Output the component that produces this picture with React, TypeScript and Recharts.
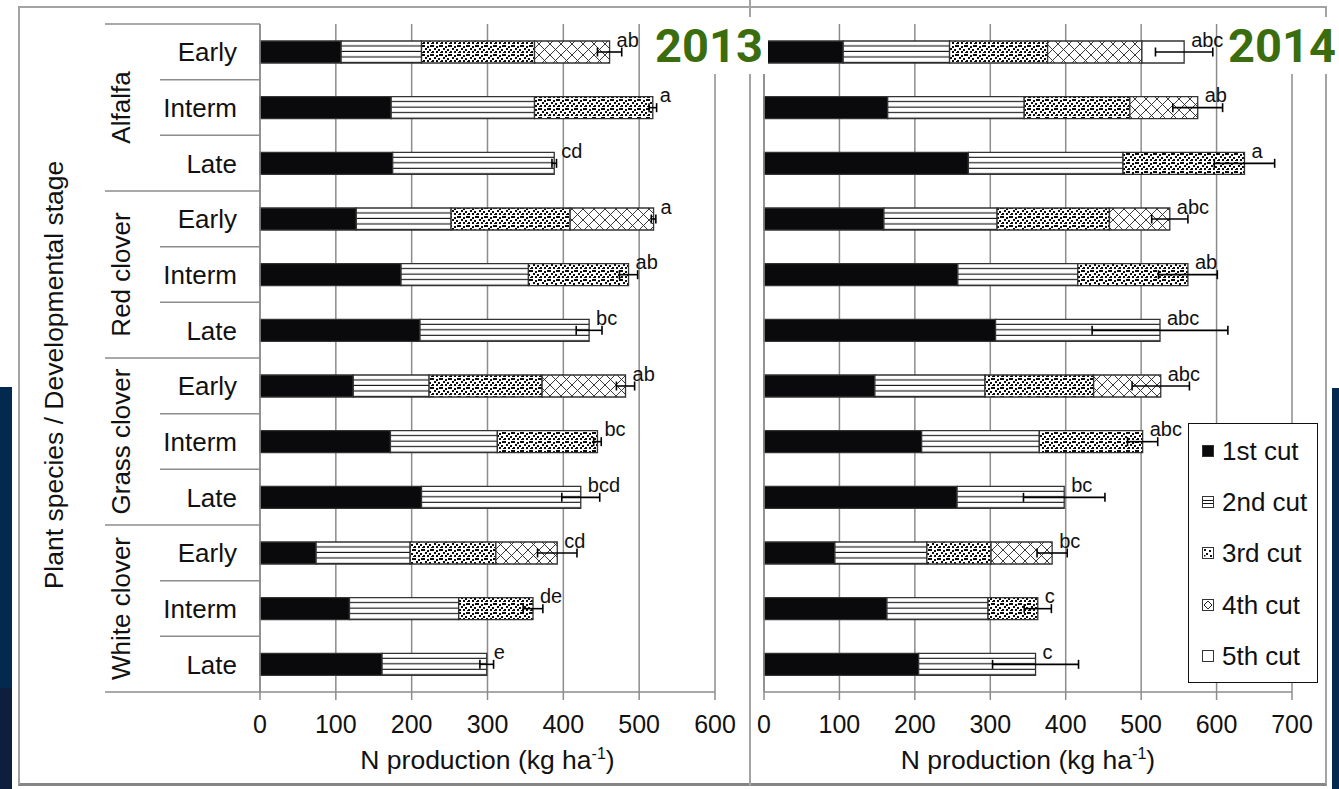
import React from 'react';
import {
  BarChart,
  Bar,
  XAxis,
  YAxis,
  CartesianGrid,
  ErrorBar,
  LabelList,
  Legend,
} from 'recharts';

// ---- data -------------------------------------------------------------
const species = ['Alfalfa', 'Red clover', 'Grass clover', 'White clover'];
const stages = ['Early', 'Interm', 'Late'];
const cutNames = ['1st cut', '2nd cut', '3rd cut', '4th cut', '5th cut'];

// N production per cut (kg ha-1); rows = species x stage
const cut1_2013 = [107, 173, 175, 127, 186, 211, 123, 172, 213, 74, 118, 161];
const cut2_2013 = [106, 189, 213, 125, 168, 223, 100, 141, 210, 124, 144, 138];
const cut3_2013 = [149, 156, 0, 157, 132, 0, 149, 132, 0, 113, 98, 0];
const cut4_2013 = [99, 0, 0, 110, 0, 0, 110, 0, 0, 81, 0, 0];
const cut5_2013 = [0, 0, 0, 0, 0, 0, 0, 0, 0, 0, 0, 0];
const se2013 = [16, 5, 3, 3, 12, 17, 12, 5, 25, 26, 13, 9];
const letters2013 = ['ab', 'a', 'cd', 'a', 'ab', 'bc', 'ab', 'bc', 'bcd', 'cd', 'de', 'e'];

const cut1_2014 = [105, 164, 271, 159, 257, 307, 147, 209, 256, 94, 163, 205];
const cut2_2014 = [141, 181, 205, 150, 159, 218, 146, 156, 142, 122, 134, 155];
const cut3_2014 = [130, 140, 161, 149, 146, 0, 144, 137, 0, 85, 66, 0];
const cut4_2014 = [125, 90, 0, 80, 0, 0, 89, 0, 0, 81, 0, 0];
const cut5_2014 = [56, 0, 0, 0, 0, 0, 0, 0, 0, 0, 0, 0];
const se2014 = [38, 33, 40, 24, 39, 90, 38, 20, 54, 20, 18, 57];
const letters2014 = ['abc', 'ab', 'a', 'abc', 'ab', 'abc', 'abc', 'abc', 'bc', 'bc', 'c', 'c'];

const ticks2013 = [0, 100, 200, 300, 400, 500, 600];
const ticks2014 = [0, 100, 200, 300, 400, 500, 600, 700];

const CUT_KEYS = ['c1', 'c2', 'c3', 'c4', 'c5'] as const;

type Row = {
  key: string;
  species: string;
  stage: string;
  c1: number;
  c2: number;
  c3: number;
  c4: number;
  c5: number;
  last: number; // index of the outermost non-zero cut
  se: number;
  letter: string;
};

const buildRows = (cuts: number[][], se: number[], letters: string[]): Row[] =>
  species.flatMap((sp, i) =>
    stages.map((st, j) => {
      const k = i * stages.length + j;
      let last = 0;
      cuts.forEach((c, ci) => {
        if (c[k] > 0) last = ci;
      });
      return {
        key: `${sp} ${st}`,
        species: sp,
        stage: st,
        c1: cuts[0][k],
        c2: cuts[1][k],
        c3: cuts[2][k],
        c4: cuts[3][k],
        c5: cuts[4][k],
        last,
        se: se[k],
        letter: letters[k],
      };
    })
  );

const rows2013 = buildRows([cut1_2013, cut2_2013, cut3_2013, cut4_2013, cut5_2013], se2013, letters2013);
const rows2014 = buildRows([cut1_2014, cut2_2014, cut3_2014, cut4_2014, cut5_2014], se2014, letters2014);

// ---- styling ----------------------------------------------------------
const FONT = '"Liberation Sans", Arial, Helvetica, sans-serif';
const GRID = '#8c8c8c';
const TEXT = '#111';
const BAR_STROKE = '#333';
const CHART_H = 789;
const PLOT_TOP = 24;
const PLOT_BOTTOM = 692;
const ROW_BAND = (PLOT_BOTTOM - PLOT_TOP) / rows2013.length;

// confetti dots for the 3rd cut (x, y, size within a 9 px tile)
const DOTS: [number, number, number][] = [
  [0, 0, 2],
  [4, 1, 2],
  [7, 0, 2],
  [2, 3, 2],
  [6, 4, 2],
  [0, 6, 2],
  [4, 6, 2],
  [8, 7, 1],
];

const PatternDefs = ({ prefix }: { prefix: string }) => (
  <defs>
    <pattern id={`${prefix}-stripes`} patternUnits="objectBoundingBox" width="1" height="0.25">
      <rect x="0" y="0" width="2000" height="40" fill="#fff" />
      <rect x="0" y="4.4" width="2000" height="1.5" fill="#111" />
    </pattern>
    <pattern id={`${prefix}-dots`} patternUnits="userSpaceOnUse" width="9" height="9">
      <rect x="0" y="0" width="9" height="9" fill="#fff" />
      <g fill="#0d0d0d" shapeRendering="crispEdges">
        {DOTS.map(([dx, dy, s], n) => (
          <rect key={n} x={dx} y={dy} width={s} height={s} />
        ))}
      </g>
    </pattern>
    <pattern id={`${prefix}-cross`} patternUnits="userSpaceOnUse" width="11" height="11">
      <rect x="0" y="0" width="11" height="11" fill="#fff" />
      <path d="M0,0 L11,11 M11,0 L0,11" stroke="#222" strokeWidth="0.9" fill="none" />
    </pattern>
  </defs>
);

const cutFills = (prefix: string) => [
  '#0a0a0c',
  `url(#${prefix}-stripes)`,
  `url(#${prefix}-dots)`,
  `url(#${prefix}-cross)`,
  '#ffffff',
];

// letter of significance, placed just past the end of the stacked bar
const LetterLabel = (props: any) => {
  if (props.value === undefined || props.value === null || props.value === '') return null;
  const vb = props.viewBox && props.viewBox.x !== undefined ? props.viewBox : props;
  const x = Number(vb.x) + Number(vb.width || 0);
  const y = Number(vb.y);
  return (
    <text x={x + 7} y={y + 5.5} fontSize={20} fill={TEXT} fontFamily={FONT}>
      {props.value}
    </text>
  );
};

// two-level category axis: stage labels, species labels and separators
const CategoryTick = (props: any) => {
  const { x, y, payload } = props;
  const idx = rows2013.findIndex((r) => r.key === payload.value);
  if (idx < 0) return null;
  const row = rows2013[idx];
  const posInGroup = idx % stages.length;
  const top = y - ROW_BAND / 2;
  const bottom = y + ROW_BAND / 2;
  const isLast = idx === rows2013.length - 1;
  return (
    <g>
      <line
        x1={posInGroup === 0 ? x - 155 : x - 100}
        x2={x}
        y1={top}
        y2={top}
        stroke={GRID}
        strokeWidth={1.5}
      />
      {isLast && <line x1={x - 155} x2={x} y1={bottom} y2={bottom} stroke={GRID} strokeWidth={1.5} />}
      <text x={x - 23} y={y} dy="0.36em" textAnchor="end" fontSize={26} fill={TEXT} fontFamily={FONT}>
        {row.stage}
      </text>
      {posInGroup === 1 && (
        <text
          x={x - 130}
          y={y}
          textAnchor="middle"
          fontSize={26}
          fill={TEXT}
          fontFamily={FONT}
          transform={`rotate(-90 ${x - 130} ${y})`}
        >
          {row.species}
        </text>
      )}
    </g>
  );
};

const YTitle = (props: any) => {
  const vb = props.viewBox || { x: 0, y: PLOT_TOP, height: PLOT_BOTTOM - PLOT_TOP };
  const cx = vb.x + 63;
  const cy = vb.y + vb.height / 2 + 17;
  return (
    <text
      x={cx}
      y={cy}
      textAnchor="middle"
      fontSize={26.5}
      fill={TEXT}
      fontFamily={FONT}
      transform={`rotate(-90 ${cx} ${cy})`}
    >
      Plant species / Developmental stage
    </text>
  );
};

const XTitle = (props: any) => {
  const vb = props.viewBox || { x: 0, y: PLOT_BOTTOM, width: 0 };
  return (
    <text x={vb.x + vb.width / 2} y={vb.y + 77} textAnchor="middle" fontSize={26.5} fill={TEXT} fontFamily={FONT}>
      N production (kg ha
      <tspan dy={-10} fontSize={16}>-1</tspan>
      <tspan dy={10}>)</tspan>
    </text>
  );
};

const LegendIcon = ({ i }: { i: number }) => (
  <svg width={12} height={12} style={{ display: 'block' }}>
    <rect x={0.5} y={0.5} width={11} height={11} fill={i === 0 ? '#0a0a0c' : '#fff'} stroke="#333" strokeWidth={1} />
    {i === 1 && <path d="M1,4.5 H11 M1,7.5 H11" stroke="#111" strokeWidth={1} />}
    {i === 2 && (
      <g fill="#111">
        <rect x={2} y={2} width={2} height={2} />
        <rect x={7} y={3} width={2} height={2} />
        <rect x={4} y={6} width={2} height={2} />
        <rect x={8} y={8} width={2} height={2} />
        <rect x={2} y={8} width={1.5} height={1.5} />
      </g>
    )}
    {i === 3 && <path d="M6,2 L10,6 L6,10 L2,6 Z" fill="none" stroke="#222" strokeWidth={1} />}
  </svg>
);

const LegendBox = () => (
  <div
    style={{
      width: 130,
      height: 260,
      boxSizing: 'border-box',
      border: '1.5px solid #111',
      background: '#fff',
      paddingTop: 1,
      paddingLeft: 13,
      fontFamily: FONT,
      fontSize: 26,
      color: TEXT,
    }}
  >
    {cutNames.map((name, i) => (
      <div key={name} style={{ height: 51.3, display: 'flex', alignItems: 'center' }}>
        <LegendIcon i={i} />
        <span style={{ marginLeft: 8, lineHeight: '26px' }}>{name}</span>
      </div>
    ))}
  </div>
);

// stacked cuts; error bar and letter sit on the outermost non-empty cut of each row
const renderBars = (prefix: string) => {
  const fills = cutFills(prefix);
  return CUT_KEYS.map((k, i) => (
    <Bar
      key={k}
      dataKey={k}
      name={cutNames[i]}
      stackId="n"
      fill={fills[i]}
      stroke={BAR_STROKE}
      strokeWidth={1.3}
      barSize={22}
      isAnimationActive={false}
    >
      <ErrorBar
        dataKey={(r: Row) => (r.last === i ? r.se : undefined)}
        direction="x"
        width={4.5}
        stroke="#000"
        strokeWidth={1.6}
        isAnimationActive={false}
      />
      <LabelList
        dataKey={(r: Row) => (r.last === i ? r.letter : '')}
        content={LetterLabel}
      />
    </Bar>
  ));
};

const YearTitle = ({ text, left, top, width }: { text: string; left: number; top: number; width: number }) => (
  <div
    style={{
      position: 'absolute',
      left,
      top,
      width,
      height: 57,
      background: '#fff',
      zIndex: 5,
    }}
  >
    <span
      style={{
        position: 'absolute',
        left: 5,
        top: 5,
        fontFamily: 'Roboto, "Noto Sans", sans-serif',
        fontWeight: 700,
        fontSize: 47,
        lineHeight: '47px',
        color: '#3b6c0e',
      }}
    >
      {text}
    </span>
  </div>
);

export default function App() {
  return (
    <div
      style={{
        position: 'absolute',
        left: 0,
        top: 0,
        width: 1339,
        height: 789,
        overflow: 'hidden',
        background: '#fff',
        fontFamily: FONT,
      }}
    >
      {/* slide background strips */}
      <div style={{ position: 'absolute', left: 0, top: 387, width: 12, height: 301, background: '#04294f' }} />
      <div style={{ position: 'absolute', left: 0, top: 688, width: 12, height: 101, background: '#0e1f3e' }} />
      <div style={{ position: 'absolute', left: 1332, top: 388, width: 7, height: 401, background: '#04294f' }} />

      {/* outer frame and panel divider */}
      <div
        style={{
          position: 'absolute',
          left: 18,
          top: 6,
          width: 1309,
          height: 780,
          boxSizing: 'border-box',
          borderTop: '2px solid #a3a3a3',
          borderLeft: '2px solid #a3a3a3',
          borderRight: '2px solid #a3a3a3',
          borderBottom: '3px solid #858585',
        }}
      />
      <div style={{ position: 'absolute', left: 749, top: 0, width: 2, height: 786, background: '#a3a3a3' }} />

      {/* 2013 panel */}
      <div style={{ position: 'absolute', left: 0, top: 0 }}>
        <BarChart
          width={750}
          height={CHART_H}
          data={rows2013}
          layout="vertical"
          margin={{ top: PLOT_TOP, right: 35, bottom: 37, left: 0 }}
        >
          <PatternDefs prefix="y13" />
          <CartesianGrid horizontal={false} stroke={GRID} strokeWidth={1.5} />
          <XAxis
            type="number"
            domain={[0, 600]}
            ticks={ticks2013}
            interval={0}
            height={60}
            tickSize={8}
            tickMargin={15}
            axisLine={{ stroke: GRID, strokeWidth: 1.5 }}
            tickLine={{ stroke: GRID, strokeWidth: 1.5 }}
            tick={{ fontSize: 25, fill: TEXT, fontFamily: FONT }}
            label={<XTitle />}
          />
          <YAxis
            type="category"
            dataKey="key"
            width={260}
            interval={0}
            tickSize={0}
            tickMargin={0}
            tickLine={false}
            axisLine={{ stroke: GRID, strokeWidth: 1.5 }}
            tick={<CategoryTick />}
            label={<YTitle />}
          />
          {renderBars('y13')}
        </BarChart>
      </div>

      {/* 2014 panel */}
      <div style={{ position: 'absolute', left: 750, top: 0 }}>
        <BarChart
          width={589}
          height={CHART_H}
          data={rows2014}
          layout="vertical"
          margin={{ top: PLOT_TOP, right: 47, bottom: 37, left: 0 }}
        >
          <PatternDefs prefix="y14" />
          <CartesianGrid horizontal={false} stroke={GRID} strokeWidth={1.5} />
          <XAxis
            type="number"
            domain={[0, 700]}
            ticks={ticks2014}
            interval={0}
            height={60}
            tickSize={8}
            tickMargin={15}
            axisLine={{ stroke: GRID, strokeWidth: 1.5 }}
            tickLine={{ stroke: GRID, strokeWidth: 1.5 }}
            tick={{ fontSize: 25, fill: TEXT, fontFamily: FONT }}
            label={<XTitle />}
          />
          <YAxis
            type="category"
            dataKey="key"
            width={14}
            interval={0}
            tick={false}
            tickLine={false}
            axisLine={{ stroke: GRID, strokeWidth: 1.5 }}
          />
          {renderBars('y14')}
          <Legend
            layout="vertical"
            align="center"
            verticalAlign="middle"
            content={<LegendBox />}
            wrapperStyle={{ position: 'absolute', left: 438, top: 423, width: 130, height: 260 }}
          />
        </BarChart>
      </div>

      <YearTitle text="2013" left={650} top={17} width={118} />
      <YearTitle text="2014" left={1223} top={17} width={116} />
    </div>
  );
}
